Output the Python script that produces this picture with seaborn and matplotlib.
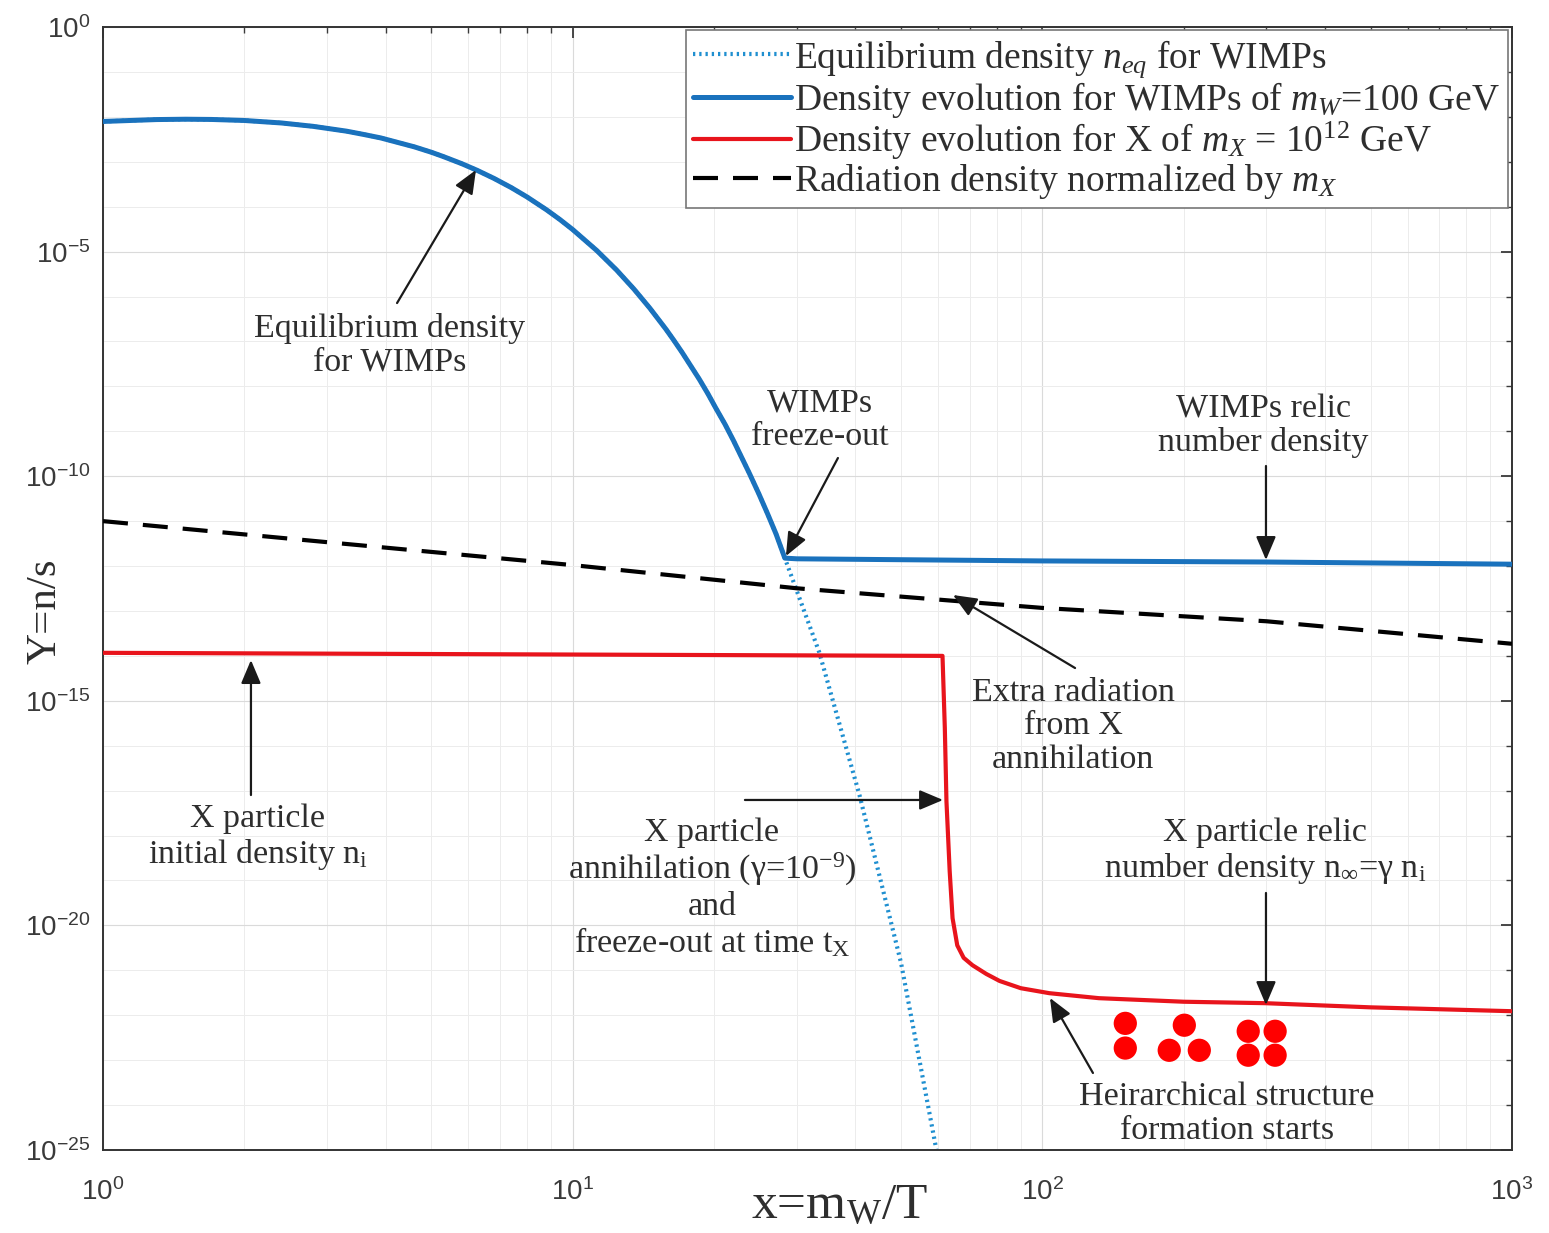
import numpy as np
import matplotlib
matplotlib.use("Agg")
import matplotlib.pyplot as plt
from matplotlib.ticker import FixedLocator, LogFormatterSciNotation, NullFormatter, LogLocator
from matplotlib.patches import ArrowStyle
import seaborn as sns

# ---- data: comoving number density Y = n/s versus x = m_W / T ----
eq_x = [1.0, 1.3, 1.5, 1.7, 2.0, 2.4, 2.8, 3.3, 3.6, 3.9, 4.6, 5.0, 5.3, 5.8, 6.25,
        6.8, 7.4, 8.0, 8.8, 9.4, 10.0, 11.25, 12.4, 13.5, 14.6, 15.8, 16.4, 17.1,
        18.6, 19.4, 20.2, 21.1, 22.0, 23.8, 24.9, 26.0, 27.1, 28.3,
        33.5, 40.8, 50.0, 59.5, 62.0]
eq_y = [7.9e-3, 8.7e-3, 8.85e-3, 8.75e-3, 8.3e-3, 7.3e-3, 6.15e-3, 4.8e-3, 4.03e-3,
        3.4e-3, 2.15e-3, 1.63e-3, 1.31e-3, 9.1e-4, 6.5e-4,
        4.26e-4, 2.66e-4, 1.64e-4, 8.5e-5, 5.15e-5, 3.1e-5, 1.06e-5, 3.9e-6, 1.47e-6,
        5.5e-7, 1.87e-7, 1.08e-7, 5.7e-8,
        1.45e-8, 6.9e-9, 3.2e-9, 1.44e-9, 6.2e-10, 1.14e-10, 4.1e-11, 1.46e-11, 5.2e-12,
        1.5e-12,
        1.2e-14, 8.0e-18, 1.5e-21, 1.0e-25, 8.0e-27]

n_fo = 38  # points before freeze-out
wimp_x = eq_x[:n_fo] + [30.0, 100.0, 300.0, 1000.0]
wimp_y = eq_y[:n_fo] + [1.45e-12, 1.3e-12, 1.23e-12, 1.1e-12]

xpart_x = [1.0, 61.3, 62.0, 62.5, 63.5, 64.4, 65.9, 68.0, 71.0, 76.0, 81.1, 90.0,
           103.5, 132.0, 200.0, 297.0, 500.0, 1000.0]
xpart_y = [1.17e-14, 1.0e-14, 2.5e-16, 5.8e-18, 1.6e-19, 1.45e-20, 3.6e-21, 1.9e-21,
           1.3e-21, 8.3e-22, 5.8e-22, 4.0e-22, 3.1e-22, 2.4e-22, 2.0e-22, 1.86e-22,
           1.5e-22, 1.23e-22]

rad_x = [1.0, 3.0, 10.0, 30.0, 100.0, 300.0, 1000.0]
rad_y = [1.0e-11, 3.4e-12, 1.05e-12, 3.2e-13, 1.17e-13, 5.9e-14, 1.86e-14]

# clumps of X particles (hierarchical structure)
dots_x = [150.2, 150.2, 200.6, 186.3, 215.9, 274.4, 313.1, 274.4, 313.1]
dots_y = [6.6e-23, 1.86e-23, 6.0e-23, 1.66e-23, 1.66e-23, 4.4e-23, 4.4e-23, 1.29e-23, 1.29e-23]

labels = [r"Equilibrium density $\mathit{n_{eq}}$ for WIMPs",
          r"Density evolution for WIMPs of $\mathit{m_W}$=100 GeV",
          r"Density evolution for X of $\mathit{m_X}$ = 10$^{12}$ GeV",
          r"Radiation density normalized by $\mathit{m_X}$"]

# ---- style ----
sns.set_theme(style="white")
plt.rcParams["font.family"] = ["Liberation Sans", "DejaVu Sans"]
plt.rcParams["mathtext.fontset"] = "custom"
plt.rcParams["mathtext.rm"] = "Liberation Serif"
plt.rcParams["mathtext.it"] = "Liberation Serif:italic"
plt.rcParams["mathtext.bf"] = "Liberation Serif:bold"
plt.rcParams["mathtext.default"] = "regular"
plt.rcParams["axes.unicode_minus"] = False

SERIF = ["Liberation Serif", "DejaVu Serif"]
BLUE = "#1a72bd"
LBLUE = "#1f8fd0"
RED = "#e8141c"
TXT = "#2e2e2e"

fig = plt.figure(figsize=(15.49, 12.33), dpi=100)
ax = fig.add_axes([0.0665, 0.0673, 0.9096, 0.9108])
ax.set_xscale("log")
ax.set_yscale("log")

sns.lineplot(x=eq_x, y=eq_y, ax=ax, color=LBLUE, lw=3.0, linestyle=":",
             estimator=None, sort=False, label=labels[0], zorder=2)
sns.lineplot(x=wimp_x, y=wimp_y, ax=ax, color=BLUE, lw=3.6,
             estimator=None, sort=False, label=labels[1], zorder=3)
sns.lineplot(x=xpart_x, y=xpart_y, ax=ax, color=RED, lw=3.0,
             estimator=None, sort=False, label=labels[2], zorder=3)
sns.lineplot(x=rad_x, y=rad_y, ax=ax, color="black", lw=3.0,
             estimator=None, sort=False, label=labels[3], zorder=3)
ax.lines[0].set_dashes((0.55, 0.95))
ax.lines[3].set_dashes((6, 3.6))

sns.scatterplot(x=dots_x, y=dots_y, ax=ax, color="#ff0000", s=280,
                edgecolor="none", zorder=4, legend=False)

ax.set_xlim(1, 1000)
ax.set_ylim(1e-25, 1)

# ticks, grid, box
ax.yaxis.set_major_locator(FixedLocator([1e-25, 1e-20, 1e-15, 1e-10, 1e-5, 1]))
ax.yaxis.set_minor_locator(FixedLocator([10.0 ** k for k in range(-25, 1)]))
ax.yaxis.set_major_formatter(LogFormatterSciNotation())
ax.yaxis.set_minor_formatter(NullFormatter())
ax.xaxis.set_major_locator(LogLocator(base=10, numticks=10))
ax.xaxis.set_minor_locator(LogLocator(base=10, subs=np.arange(2, 10), numticks=20))
ax.xaxis.set_minor_formatter(NullFormatter())
ax.tick_params(which="both", direction="in", top=True, right=True, colors="#3a3a3a",
               labelsize=20)
ax.tick_params(axis="y", pad=9)
ax.tick_params(axis="x", pad=20)
ax.tick_params(which="major", length=8, width=1.3)
ax.tick_params(which="minor", length=4, width=1.0)
ax.grid(True, which="major", color="#dadada", lw=0.8)
ax.grid(True, which="minor", color="#ececec", lw=0.7)
ax.set_axisbelow(True)
for sp in ax.spines.values():
    sp.set_color("#333333")
    sp.set_linewidth(1.4)
ax.set_xlabel("")
ax.set_ylabel("")

fig.text(0.542, 0.022, r"x=m$_{\mathrm{W}}$/T", family=SERIF, fontsize=37,
         color=TXT, ha="center", va="center")
fig.text(0.029, 0.504, "Y=n/s", family=SERIF, fontsize=31, color=TXT,
         rotation=90, ha="center", va="center")

# legend
leg = ax.legend(loc="upper right", bbox_to_anchor=(0.997, 0.997), borderaxespad=0,
                prop={"family": SERIF, "size": 27}, labelspacing=0.0,
                handlelength=2.6, handletextpad=0.1, borderpad=0.2,
                fancybox=False, framealpha=1, edgecolor="#777777")
leg.get_frame().set_linewidth(1.2)
for t in leg.get_texts():
    t.set_color(TXT)

# annotations
notes = [
    ("Equilibrium density\nfor WIMPs", (0.2037, 0.7168)),
    ("WIMPs\nfreeze-out", (0.5089, 0.6500)),
    ("WIMPs relic\nnumber density", (0.8233, 0.6447)),
    ("Extra radiation\nfrom X\nannihilation", (0.6884, 0.3776)),
    ("X particle\ninitial density n$_\\mathrm{i}$", (0.1100, 0.2778)),
    ("X particle\nannihilation (γ=10$^{-9}$)\nand\nfreeze-out at time t$_\\mathrm{X}$", (0.4322, 0.2333)),
    ("X particle relic\nnumber density n$_{∞}$=γ n$_\\mathrm{i}$", (0.8247, 0.2654)),
    ("Heirarchical structure\nformation starts", (0.7977, 0.0321)),
]
for txt, pos in notes:
    ax.text(pos[0], pos[1], txt, transform=ax.transAxes, family=SERIF, fontsize=24.5,
            color=TXT, ha="center", va="center", linespacing=1.13, zorder=5)

arrows = [
    ((0.2087, 0.7542), (0.2647, 0.8727)),
    ((0.5216, 0.6162), (0.4847, 0.5289)),
    ((0.8254, 0.6091), (0.8254, 0.5254)),
    ((0.6899, 0.4292), (0.6033, 0.4942)),
    ((0.1050, 0.3161), (0.1050, 0.4363)),
    ((0.4556, 0.3117), (0.5962, 0.3117)),
    ((0.8254, 0.2289), (0.8254, 0.1291)),
    ((0.7026, 0.0686), (0.6721, 0.1354)),
]
astyle = ArrowStyle("-|>", head_length=0.9, head_width=0.38)
for tail, head in arrows:
    ax.annotate("", xy=head, xytext=tail, xycoords="axes fraction",
                textcoords="axes fraction",
                arrowprops=dict(arrowstyle=astyle, mutation_scale=16, lw=1.6,
                                color="#1a1a1a", shrinkA=0, shrinkB=0), zorder=6)

fig.savefig("out.png", dpi=100)
